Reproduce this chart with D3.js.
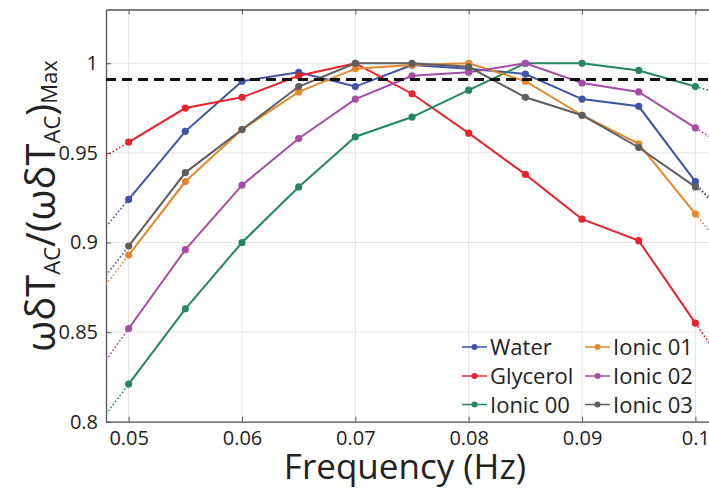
<!DOCTYPE html>
<html>
<head>
<meta charset="utf-8">
<script src="https://cdn.jsdelivr.net/npm/d3@7"></script>
<style>
  body { margin: 0; background: #fff; }
  svg { display: block; font-family: "Open Sans", "Noto Sans", sans-serif; }
</style>
</head>
<body>
<svg id="chart" width="709" height="489"></svg>
<script>
// frequencies (Hz)
const freqs = [0.05, 0.055, 0.06, 0.065, 0.07, 0.075, 0.08, 0.085, 0.09, 0.095, 0.1];

// normalised amplitude per liquid
const water    = [0.924, 0.962, 0.990, 0.995, 0.987, 0.999, 0.997, 0.994, 0.980, 0.976, 0.934];
const glycerol = [0.956, 0.975, 0.981, 0.993, 1.000, 0.983, 0.961, 0.938, 0.913, 0.901, 0.855];
const ionic00  = [0.821, 0.863, 0.900, 0.931, 0.959, 0.970, 0.985, 1.000, 1.000, 0.996, 0.987];
const ionic01  = [0.893, 0.934, 0.963, 0.984, 0.997, 0.999, 1.000, 0.990, 0.971, 0.955, 0.916];
const ionic02  = [0.852, 0.896, 0.932, 0.958, 0.980, 0.993, 0.995, 1.000, 0.989, 0.984, 0.964];
const ionic03  = [0.898, 0.939, 0.963, 0.987, 1.000, 1.000, 0.998, 0.981, 0.971, 0.953, 0.931];

const seriesNames  = ['Water', 'Glycerol', 'Ionic 00', 'Ionic 01', 'Ionic 02', 'Ionic 03'];
const seriesValues = [water, glycerol, ionic00, ionic01, ionic02, ionic03];
const seriesColors = ['#3d55a5', '#e8232b', '#24875f', '#e3882c', '#a64ca7', '#5e5e5e'];

const threshold = 0.991;

const xTicks = [0.05, 0.06, 0.07, 0.08, 0.09, 0.1];
const xTickLabels = ['0.05', '0.06', '0.07', '0.08', '0.09', '0.1'];
const yTicks = [0.8, 0.85, 0.9, 0.95, 1];
const yTickLabels = ['0.8', '0.85', '0.9', '0.95', '1'];

const svg = d3.select('#chart');

const pLeft = 106, pRight = 709, pTop = 9.5, pBottom = 421.7;

const x = d3.scaleLinear().domain([0.048, 0.1012]).range([pLeft, pRight]);
const y = d3.scaleLinear().domain([0.8, 1.03]).range([pBottom, pTop]);

svg.append('defs').append('clipPath').attr('id', 'plotclip')
    .append('rect')
    .attr('x', pLeft).attr('y', pTop)
    .attr('width', pRight - pLeft).attr('height', pBottom - pTop);

// grid
const grid = svg.append('g');
grid.selectAll('.vg').data(xTicks).enter().append('line')
    .attr('x1', d => x(d)).attr('x2', d => x(d))
    .attr('y1', pTop).attr('y2', pBottom)
    .attr('stroke', '#e3e3e3').attr('stroke-width', 1);
grid.selectAll('.hg').data(yTicks).enter().append('line')
    .attr('x1', pLeft).attr('x2', pRight)
    .attr('y1', d => y(d)).attr('y2', d => y(d))
    .attr('stroke', '#e3e3e3').attr('stroke-width', 1);

// axes
const xAxis = d3.axisBottom(x).tickValues(xTicks)
    .tickFormat((d, i) => xTickLabels[i]).tickSizeInner(-5).tickSizeOuter(0).tickPadding(9);
const yAxis = d3.axisLeft(y).tickValues(yTicks)
    .tickFormat((d, i) => yTickLabels[i]).tickSizeInner(-5).tickSizeOuter(0).tickPadding(8);
const xTop = d3.axisTop(x).tickValues(xTicks).tickFormat('').tickSizeInner(-5).tickSizeOuter(0);

function styleAxis(g) {
    g.select('.domain').attr('stroke', '#555').attr('stroke-width', 1.3);
    g.selectAll('.tick line').attr('stroke', '#555');
    g.selectAll('.tick text').attr('fill', '#222').style('font-size', '20px')
        .style('font-family', '"Open Sans", "Noto Sans", sans-serif');
}

svg.append('g').attr('transform', `translate(0,${pBottom})`).call(xAxis).call(styleAxis);
svg.append('g').attr('transform', `translate(${pLeft},0)`).call(yAxis).call(styleAxis);
svg.append('g').attr('transform', `translate(0,${pTop})`).call(xTop).call(styleAxis);

const plot = svg.append('g').attr('clip-path', 'url(#plotclip)');

const line = d3.line().x(d => x(d[0])).y(d => y(d[1]));

// dotted extrapolation to the plot edges
seriesValues.forEach((vals, i) => {
    const n = vals.length;
    const x0 = x.domain()[0], x1 = x.domain()[1];
    const sL = (vals[1] - vals[0]) / (freqs[1] - freqs[0]);
    const sR = (vals[n - 1] - vals[n - 2]) / (freqs[n - 1] - freqs[n - 2]);
    const ends = [
        [[x0, vals[0] + sL * (x0 - freqs[0])], [freqs[0], vals[0]]],
        [[freqs[n - 1], vals[n - 1]], [x1, vals[n - 1] + sR * (x1 - freqs[n - 1])]]
    ];
    plot.selectAll(null).data(ends).enter().append('path')
        .attr('d', line)
        .attr('fill', 'none')
        .attr('stroke', seriesColors[i])
        .attr('stroke-width', 1.6)
        .attr('stroke-dasharray', '1.6,2.2');
});

seriesValues.forEach((vals, i) => {
    const pts = freqs.map((f, j) => [f, vals[j]]);
    plot.append('path')
        .datum(pts)
        .attr('d', line)
        .attr('fill', 'none')
        .attr('stroke', seriesColors[i])
        .attr('stroke-width', 2);
    plot.selectAll(null).data(pts).enter().append('circle')
        .attr('cx', d => x(d[0])).attr('cy', d => y(d[1]))
        .attr('r', 3.6)
        .attr('fill', seriesColors[i]);
});

// threshold
plot.append('line')
    .attr('x1', pLeft).attr('x2', pRight)
    .attr('y1', y(threshold)).attr('y2', y(threshold))
    .attr('stroke', '#111').attr('stroke-width', 3)
    .attr('stroke-dasharray', '10,6');

// legend
const legend = svg.append('g');
const legCols = [462, 585];
const legRows = [347, 376, 404.5];
seriesNames.forEach((name, i) => {
    const lx = legCols[Math.floor(i / 3)];
    const ly = legRows[i % 3];
    const item = legend.append('g').attr('transform', `translate(${lx},${ly})`);
    item.append('line').attr('x1', 0).attr('x2', 25).attr('y1', 0).attr('y2', 0)
        .attr('stroke', seriesColors[i]).attr('stroke-width', 1.5);
    item.append('circle').attr('cx', 12.5).attr('cy', 0).attr('r', 3).attr('fill', seriesColors[i]);
    item.append('text').attr('x', 28).attr('y', 8)
        .attr('fill', '#222').style('font-size', '22px').text(name);
});

// axis titles
svg.append('text')
    .attr('x', 405).attr('y', 479)
    .attr('text-anchor', 'middle')
    .attr('fill', '#222')
    .style('font-size', '35px')
    .text('Frequency (Hz)');

const yl = svg.append('text')
    .attr('transform', 'translate(55,206) rotate(-90)')
    .attr('text-anchor', 'middle')
    .attr('fill', '#222')
    .style('font-size', '40px');
yl.append('tspan').text('ωδT');
yl.append('tspan').attr('dy', 5).style('font-size', '22px').text('AC');
yl.append('tspan').attr('dy', -5).text('/(ωδT');
yl.append('tspan').attr('dy', 5).style('font-size', '22px').text('AC');
yl.append('tspan').attr('dy', -5).text(')');
yl.append('tspan').attr('dy', 2).style('font-size', '22px').text('Max');
</script>
</body>
</html>
